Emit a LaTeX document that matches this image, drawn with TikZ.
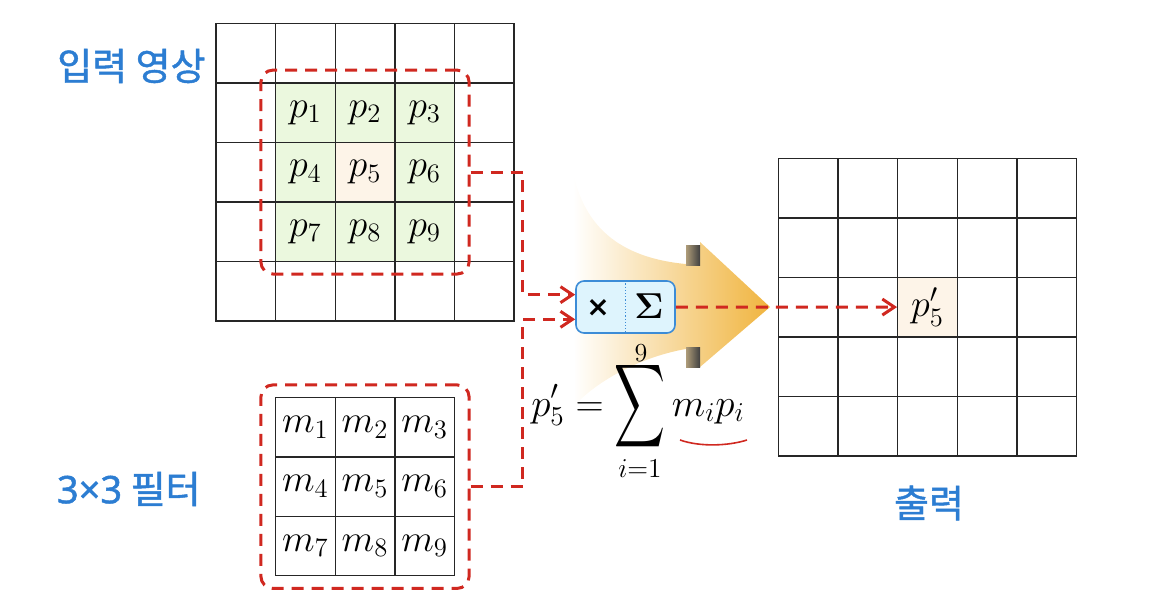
\RequirePackage{fix-cm}
\documentclass[tikz,border=0pt]{standalone}
\usepackage{amsmath}
\usepackage[no-math]{fontspec}
\newfontfamily\krfont[FakeBold=1.2]{Noto Sans CJK KR}
\newfontfamily\latfont[FakeBold=1.2]{Noto Sans}
\newfontfamily\signfont{DejaVu Sans}
\usetikzlibrary{arrows.meta,calc,fit}
\definecolor{flowred}{RGB}{208,40,32}
\definecolor{wingreen}{RGB}{235,248,222}
\definecolor{centerorange}{RGB}{253,244,232}
\definecolor{labelblue}{RGB}{44,125,210}
\definecolor{opblue}{RGB}{60,140,215}
\definecolor{opfill}{RGB}{222,244,253}
\definecolor{arrowyellow}{RGB}{252,234,160}
\definecolor{arrowgold}{RGB}{240,180,62}
\tikzset{
  cell/.style={ draw=black!85, line width=0.7pt, minimum width=29.8pt, minimum height=29.75pt, inner sep=0pt, font=\fontsize{19}{22}\selectfont }
}
\tikzset{
  window/.style={ draw=flowred, line width=1.5pt, dash pattern=on 6pt off 4pt, rounded corners=6pt, inner xsep=7pt, inner ysep=6pt }
}
\tikzset{
  flow/.style={ draw=flowred, line width=1.5pt, dash pattern=on 6pt off 4pt, -{Straight Barb[length=6pt, width=8pt]} }
}
\tikzset{
  opbox/.style={ draw=opblue, fill=opfill, line width=0.8pt, rounded corners=4pt, minimum width=49.5pt, minimum height=26pt }
}
\tikzset{
  lbl/.style={ text=labelblue, inner sep=0pt, font=\krfont\fontsize{19}{22}\selectfont }
}
\newcommand{\bigsum}{\mathop{\vcenter{\hbox{\scalebox{0.85}[1.4]{$\displaystyle\sum$}}}}\limits}
\begin{document}
\begin{tikzpicture}[x=0.5pt, y=-0.5pt]
      \useasboundingbox (0,0) rectangle (1162,612);

      % big arrow behind the operator
      \shade[left color=white, middle color=arrowyellow, right color=arrowgold]
        (573,172) .. controls (586,235) and (630,262) .. (700,265) -- (700,242)
        -- (770,307) -- (700,367) -- (700,347)
        .. controls (650,352) and (600,378) .. (575,405) -- cycle;
      \shade[left color=arrowgold!50!black!60, right color=black!75] (686,245) rectangle (700,265);
      \shade[left color=arrowgold!50!black!60, right color=black!75] (686,347) rectangle (700,367);

      % input image
      \foreach \r in {1,...,5}{
        \foreach \c in {1,...,5}{
          \node[cell] (in-\r-\c) at ({216+59.6*(\c-0.5)}, {23.3+59.5*(\r-0.5)}) {};
        }
      }
      \foreach \r in {2,3,4}{
        \foreach \c in {2,3,4}{
          \pgfmathtruncatemacro\k{3*(\r-2)+\c-1}
          \ifnum\k=5 \def\cellcol{centerorange}\else\def\cellcol{wingreen}\fi
          \node[cell, fill=\cellcol] (p\k) at (in-\r-\c) {$p_{\k}$};
        }
      }
      \node[window, fit=(in-2-2)(in-4-4)] (win) {};

      % filter
      \foreach \r in {1,2,3}{
        \foreach \c in {1,2,3}{
          \pgfmathtruncatemacro\k{3*(\r-1)+\c}
          \node[cell] (f-\r-\c) at ({216+59.6*(\c+0.5)}, {397.7+59.3*(\r-0.5)}) {$m_{\k}$};
        }
      }
      \node[window, fit=(f-1-1)(f-3-3)] (fwin) {};

      % output image
      \foreach \r in {1,...,5}{
        \foreach \c in {1,...,5}{
          \node[cell] (out-\r-\c) at ({778.3+59.7*(\c-0.5)}, {158.3+59.5*(\r-0.5)}) {};
        }
      }
      \node[cell, fill=centerorange] (p5out) at (out-3-3) {$p'_5$};

      % multiply and sum
      \node[opbox] (op) at (625.5,307) {};
      \draw[opblue, densely dotted, line width=0.6pt] (op.north) -- (op.south);
      \node[font=\signfont\bfseries\fontsize{14}{16}\selectfont, inner sep=0pt] (opmul) at (598,308) {×};
      \node[font=\fontsize{18}{20}\selectfont, inner sep=0pt] (opsum) at (649,306) {$\mathbf{\Sigma}$};

      \draw[flow] (win.east |- in-3-3) -- ++(52,0) |- ($(op.north west)!0.27!(op.south west)$);
      \draw[flow] (fwin.east |- f-2-2) -- ++(52,0) |- ($(op.north west)!0.73!(op.south west)$);
      \draw[flow] (op.east) -- (p5out.west);

      % formula
      \node[anchor=base, font=\fontsize{19.5}{22}\selectfont] (eq) at (638,416) {$\displaystyle p'_5=\bigsum_{i=1} m_i p_i$};
      \node[inner sep=0pt, font=\fontsize{13}{15}\selectfont] (eqtop) at (641,353) {$9$};
      \draw[flowred, line width=0.8pt] (680,440) .. controls (700,447) and (728,446) .. (747,440);

      % labels
      \node[lbl, anchor=east] (inlabel) at (206,66) {입력 영상};
      \node[lbl, anchor=east] (filterlabel) at (201,489) {{\latfont 3×3} 필터};
      \node[lbl] (outlabel) at (929,503) {출력};
    \end{tikzpicture}
\end{document}
